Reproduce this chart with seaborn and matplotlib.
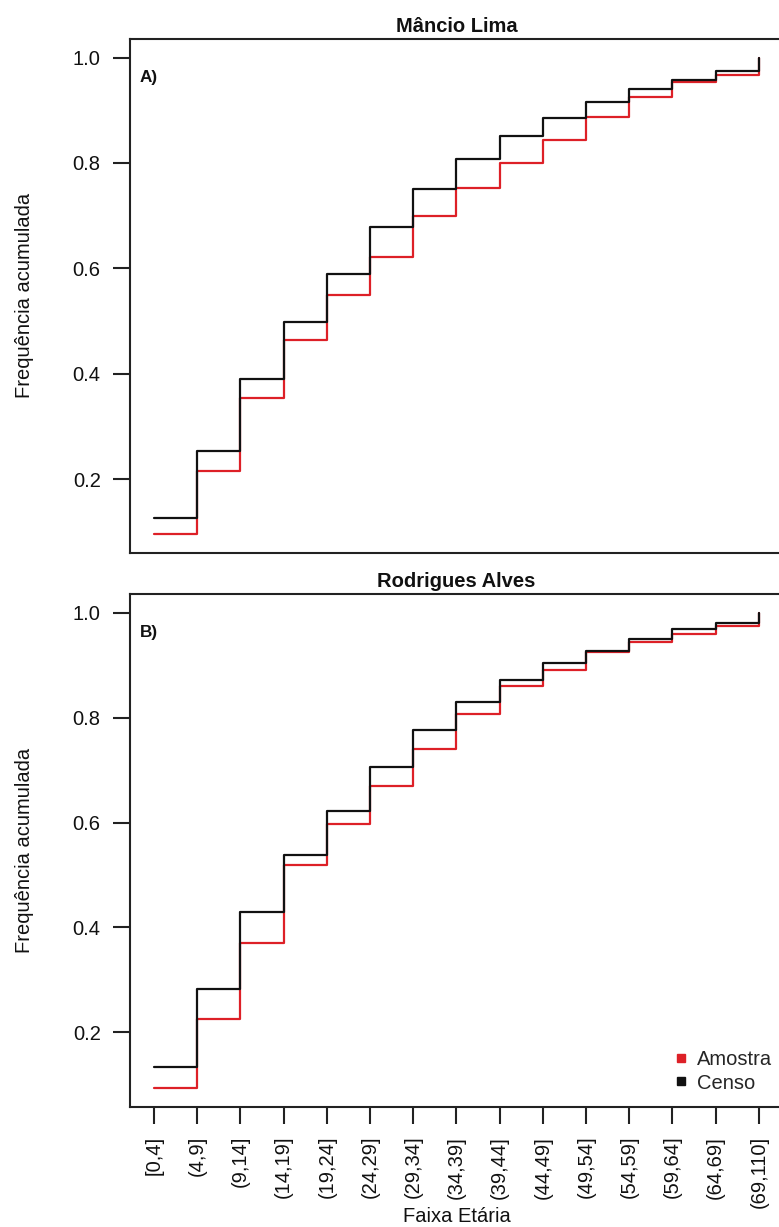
import numpy as np
import pandas as pd
import matplotlib
matplotlib.use("Agg")
import matplotlib.pyplot as plt
from matplotlib.lines import Line2D
import seaborn as sns

# ---- data ----
faixas = ["[0,4]", "(4,9]", "(9,14]", "(14,19]", "(19,24]", "(24,29]", "(29,34]",
          "(34,39]", "(39,44]", "(44,49]", "(49,54]", "(54,59]", "(59,64]", "(64,69]", "(69,110]"]

mancio_amostra = [0.096, 0.215, 0.353, 0.463, 0.549, 0.622, 0.699, 0.753,
                  0.800, 0.843, 0.887, 0.926, 0.953, 0.967, 1.000]
mancio_censo = [0.127, 0.254, 0.390, 0.498, 0.590, 0.679, 0.751, 0.807,
                0.851, 0.885, 0.915, 0.941, 0.957, 0.974, 1.000]

rodrigues_amostra = [0.094, 0.225, 0.370, 0.519, 0.598, 0.670, 0.741, 0.807,
                     0.861, 0.892, 0.926, 0.945, 0.960, 0.976, 1.000]
rodrigues_censo = [0.133, 0.283, 0.429, 0.538, 0.622, 0.706, 0.776, 0.831,
                   0.873, 0.905, 0.928, 0.950, 0.969, 0.980, 1.000]

titles = ["Mâncio Lima", "Rodrigues Alves"]
panel_tags = ["A)", "B)"]
series_names = ["Amostra", "Censo"]

RED = "#dd2027"
BLACK = "#111111"
palette = {"Amostra": RED, "Censo": BLACK}

sns.set_theme(style="ticks")
plt.rcParams["font.family"] = ["Liberation Sans", "DejaVu Sans"]
FS = 14.5
plt.rcParams["font.size"] = FS

W, H = 779, 1227
fig = plt.figure(figsize=(W / 100, H / 100), dpi=100)
fig.patch.set_facecolor("white")

def fx(px):
    return px / W

def fy(py):
    return 1 - py / H

left_px, right_px = 129.8, 783.0
panels = [(38.5, 552.9), (594.0, 1106.7)]
data_sets = [(mancio_amostra, mancio_censo), (rodrigues_amostra, rodrigues_censo)]

xpos = np.arange(1, len(faixas) + 1)

for i, ((top, bot), (am, ce)) in enumerate(zip(panels, data_sets)):
    ax = fig.add_axes([fx(left_px), fy(bot), fx(right_px) - fx(left_px), fy(top) - fy(bot)])
    df = pd.DataFrame({
        "x": np.concatenate([xpos, xpos]),
        "y": np.concatenate([am, ce]),
        "serie": ["Amostra"] * len(am) + ["Censo"] * len(ce),
    })
    sns.lineplot(data=df, x="x", y="y", hue="serie", hue_order=series_names,
                 palette=palette, drawstyle="steps-post", linewidth=1.6,
                 legend=False, ax=ax, estimator=None, sort=True)
    allv = np.concatenate([am, ce])
    lo, hi = allv.min(), allv.max()
    pad = 0.04 * (hi - lo)
    ax.set_ylim(lo - pad, hi + pad)
    xr = xpos.max() - xpos.min()
    ax.set_xlim(xpos.min() - 0.04 * xr, xpos.max() + 0.04 * xr)
    ax.set_yticks([0.2, 0.4, 0.6, 0.8, 1.0])
    ax.set_yticklabels(["0.2", "0.4", "0.6", "0.8", "1.0"])
    for sp in ax.spines.values():
        sp.set_visible(True)
        sp.set_linewidth(1.5)
        sp.set_color("#222222")
    ax.tick_params(axis="both", direction="out", length=12, width=1.5,
                   color="#222222", labelsize=FS, pad=9, labelcolor="#111111")
    ax.set_title(titles[i], fontweight="bold", fontsize=FS, pad=5, color="#111111")
    ax.set_ylabel("Frequência acumulada", fontsize=FS, va="center", color="#111111")
    ax.yaxis.set_label_coords(-0.1605, 0.5)
    ax.text(0.0156, 0.925, panel_tags[i], transform=ax.transAxes, fontweight="bold",
            fontsize=FS * 0.85, ha="left", va="center", color="#111111")
    if i == 0:
        ax.set_xticks(xpos)
        ax.tick_params(axis="x", bottom=False, labelbottom=False)
        ax.set_xlabel("")
    else:
        ax.set_xticks(xpos)
        ax.set_xticklabels(faixas, rotation=90)
        ax.set_xlabel("Faixa Etária", fontsize=FS, va="center", color="#111111")
        ax.xaxis.set_label_coords(0.5, -0.215)
        handles = [Line2D([], [], marker="s", ls="none", color=palette[s], markersize=6)
                   for s in series_names]
        leg = fig.legend(handles, series_names, loc="center left",
                         bbox_to_anchor=(fx(675), fy(1071.5)), frameon=False,
                         handlelength=0.6, handletextpad=0.5, labelspacing=0.2,
                         borderpad=0, borderaxespad=0, fontsize=FS)

fig.savefig("out.png", dpi=100, facecolor="white")
